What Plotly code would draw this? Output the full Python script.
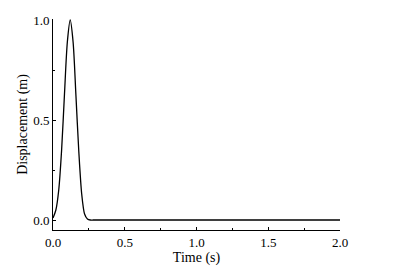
import plotly.graph_objects as go

time_s = [0.0, 0.02, 0.04, 0.06, 0.08, 0.10, 0.12, 0.14, 0.16, 0.18, 0.20, 0.22, 0.24, 0.26, 0.28, 0.30, 0.35, 0.5, 1.0, 1.5, 2.0]
displacement_m = [0.01, 0.05, 0.15, 0.35, 0.63, 0.89, 1.0, 0.89, 0.62, 0.34, 0.13, 0.03, 0.005, 0.0, 0.0, 0.0, 0.0, 0.0, 0.0, 0.0, 0.0]

x_ticks = [0.0, 0.5, 1.0, 1.5, 2.0]
x_tick_labels = ["0.0", "0.5", "1.0", "1.5", "2.0"]
y_ticks = [0.0, 0.5, 1.0]
y_tick_labels = ["0.0", "0.5", "1.0"]

font_family = "Liberation Serif, Times New Roman, serif"

fig = go.Figure()
fig.add_trace(go.Scatter(
    x=time_s, y=displacement_m, mode="lines",
    line=dict(color="black", width=1.3, shape="spline", smoothing=0.8),
    showlegend=False, hoverinfo="skip",
))

axis_common = dict(
    showline=True, linecolor="black", linewidth=1,
    ticks="inside", ticklen=3, tickwidth=1, tickcolor="black",
    showgrid=False, zeroline=False, mirror=False, automargin=False,
    tickfont=dict(family=font_family, size=13, color="black"),
)

fig.update_layout(
    width=396, height=278,
    margin=dict(l=45, r=64, t=11, b=56),
    paper_bgcolor="white", plot_bgcolor="white",
    font=dict(family=font_family, color="black"),
    xaxis=dict(
        range=[0, 2.0], tickvals=x_ticks, ticktext=x_tick_labels,
        minor=dict(ticks="inside", ticklen=2, tickcolor="black", dtick=0.25, showgrid=False),
        title=dict(text="Time (s)", font=dict(family=font_family, size=14), standoff=3),
        **axis_common,
    ),
    yaxis=dict(
        range=[-0.05, 1.005], tickvals=y_ticks, ticktext=y_tick_labels,
        minor=dict(ticks="inside", ticklen=2, tickcolor="black", dtick=0.25, showgrid=False),
        title=dict(text="Displacement (m)", font=dict(family=font_family, size=14), standoff=2),
        **axis_common,
    ),
)

fig.write_html("out.html")
